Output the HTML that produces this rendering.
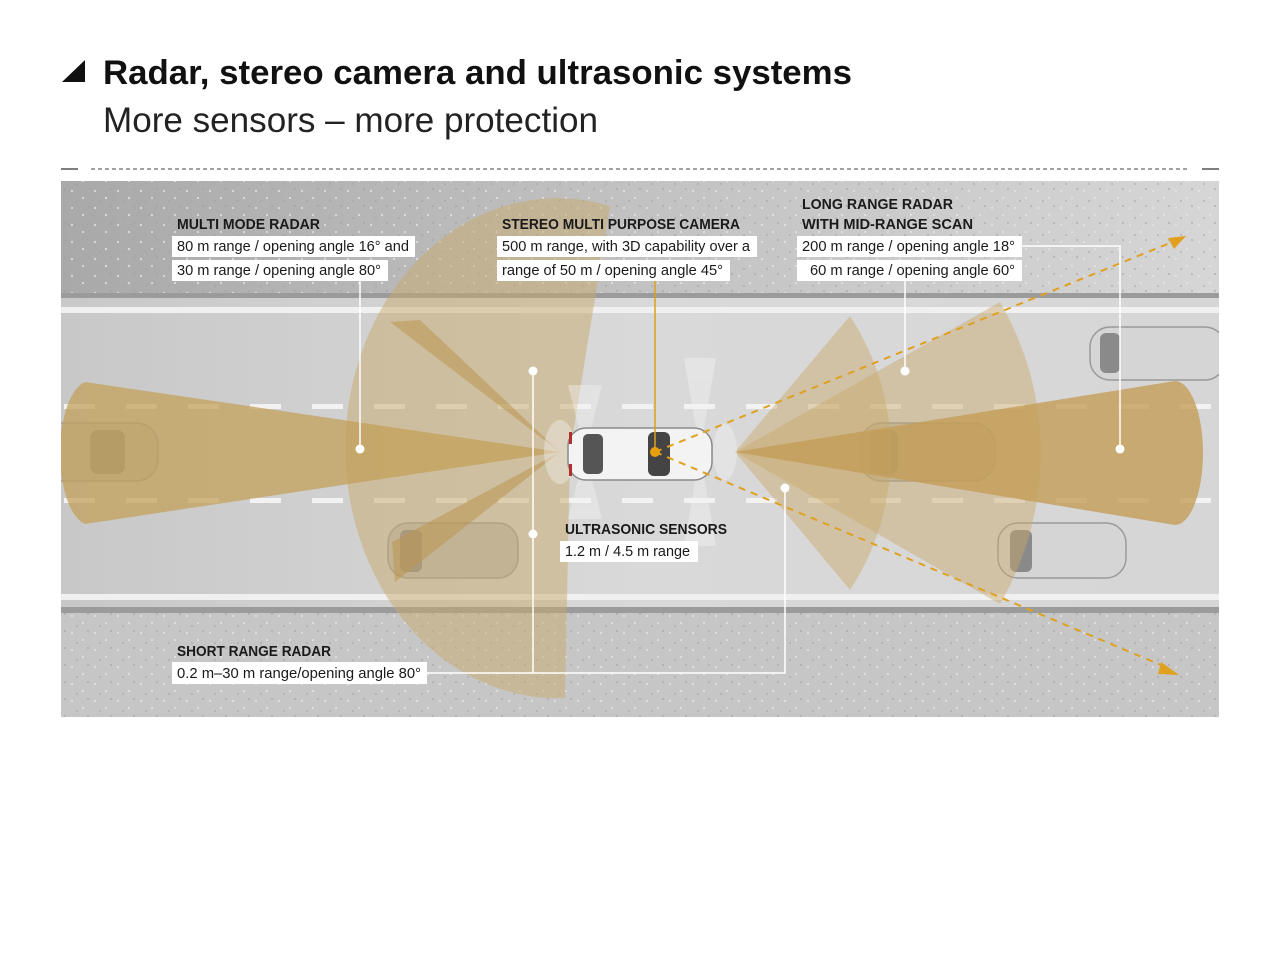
<!DOCTYPE html>
<html><head><meta charset="utf-8"><style>
html,body{margin:0;padding:0;background:#fff;}
svg{display:block;}
text{font-family:"Liberation Sans Narrow","Liberation Sans",sans-serif;}
.h{font-weight:bold;font-size:15px;fill:#1a1a1a;}
.b{font-size:14.5px;fill:#1a1a1a;}
</style></head><body>
<svg width="1281" height="961" viewBox="0 0 1281 961" xmlns="http://www.w3.org/2000/svg">
<defs>
<pattern id="dots" width="23" height="17" patternUnits="userSpaceOnUse">
<circle cx="3" cy="4" r="1.1" fill="#e6e6e6"/><circle cx="14" cy="11" r="1.1" fill="#e6e6e6"/><circle cx="19" cy="2" r="0.9" fill="#9c9c9c"/><circle cx="8" cy="14" r="0.9" fill="#a0a0a0"/>
</pattern>
<linearGradient id="top" x1="0" y1="0" x2="1" y2="0"><stop offset="0" stop-color="#a9a9a9"/><stop offset="0.5" stop-color="#c2c2c2"/><stop offset="1" stop-color="#d6d6d6"/></linearGradient>
<linearGradient id="road" x1="0" y1="0" x2="1" y2="0"><stop offset="0" stop-color="#c8c8c8"/><stop offset="0.5" stop-color="#d9d9d9"/><stop offset="1" stop-color="#d6d6d6"/></linearGradient>
<clipPath id="img"><rect x="61" y="181" width="1158" height="536"/></clipPath>
</defs>
<polygon points="62,82 85,60 85,82" fill="#111"/>
<text x="103" y="84" font-size="34" font-weight="bold" fill="#111" textLength="749" lengthAdjust="spacingAndGlyphs">Radar, stereo camera and ultrasonic systems</text>
<text x="103" y="132" font-size="35" fill="#222" textLength="495" lengthAdjust="spacingAndGlyphs">More sensors – more protection</text>
<line x1="61" y1="169" x2="78" y2="169" stroke="#333" stroke-width="1.2"/>
<line x1="91" y1="169" x2="1190" y2="169" stroke="#444" stroke-width="1" stroke-dasharray="4,3"/>
<line x1="1202" y1="169" x2="1219" y2="169" stroke="#333" stroke-width="1.2"/>

<g clip-path="url(#img)">
<rect x="61" y="181" width="1158" height="536" fill="url(#road)"/>
<rect x="61" y="181" width="1158" height="112" fill="url(#top)"/>
<rect x="61" y="181" width="1158" height="112" fill="url(#dots)" opacity="0.8"/>
<rect x="61" y="293" width="1158" height="5" fill="#9b9b9b"/>
<rect x="61" y="307" width="1158" height="6" fill="#f0f0f0"/>
<rect x="61" y="594" width="1158" height="6" fill="#f0f0f0"/>
<rect x="61" y="607" width="1158" height="6" fill="#9b9b9b"/>
<rect x="61" y="613" width="1158" height="104" fill="#c6c6c6"/>
<rect x="61" y="613" width="1158" height="104" fill="url(#dots)" opacity="0.8"/>
<line x1="64" y1="406.5" x2="1219" y2="406.5" stroke="#f2f2f2" stroke-width="5" stroke-dasharray="31,31"/>
<line x1="64" y1="500.5" x2="1219" y2="500.5" stroke="#f2f2f2" stroke-width="5" stroke-dasharray="31,31"/>

<g fill="#bdbdbd" stroke="#9a9a9a" stroke-width="1.5">
<rect x="40" y="423" width="118" height="58" rx="22"/>
<rect x="388" y="523" width="130" height="55" rx="20"/>
<rect x="860" y="423" width="135" height="58" rx="22"/>
<rect x="1090" y="327" width="135" height="53" rx="20" fill="#d5d5d5"/>
<rect x="998" y="523" width="128" height="55" rx="20" fill="#d5d5d5"/>
</g>
<g fill="#8a8a8a">
<rect x="90" y="430" width="35" height="44" rx="8"/>
<rect x="400" y="530" width="22" height="42" rx="6"/>
<rect x="870" y="430" width="28" height="44" rx="8"/>
<rect x="1100" y="333" width="20" height="40" rx="6"/>
<rect x="1010" y="530" width="22" height="42" rx="6"/>
</g>

<path d="M570,452 L610,206 A212,250 0 1 0 565,698 Z" fill="#c9aa6e" opacity="0.5"/>
<path d="M560,452 L390,322 L420,320 Z" fill="#b99550" opacity="0.55"/>
<path d="M560,452 L392,542 L395,582 Z" fill="#b99550" opacity="0.55"/>
<path d="M560,452 L85,382 A30,72 0 0 0 85,524 Z" fill="#c3a05a" opacity="0.75"/>
<path d="M735,452 L1000,302 A300,300 0 0 1 1000,604 Z" fill="#c9a86a" opacity="0.45"/>
<path d="M735,452 L850,316 A250,250 0 0 1 850,590 Z" fill="#c9a86a" opacity="0.45"/>
<path d="M735,452 L1175,381 A28,72 0 0 1 1175,525 Z" fill="#c39e58" opacity="0.8"/>

<g fill="#f4f4f4" opacity="0.4">
<path d="M585,452 L568,385 L602,385 Z"/><path d="M585,452 L568,519 L602,519 Z"/>
<path d="M700,452 L684,358 L716,358 Z"/><path d="M700,452 L684,546 L716,546 Z"/>
<ellipse cx="560" cy="452" rx="16" ry="32"/><ellipse cx="725" cy="452" rx="12" ry="28"/>
</g>

<rect x="568" y="428" width="144" height="52" rx="18" fill="#f3f3f3" stroke="#8a8a8a" stroke-width="1.5"/>
<rect x="583" y="434" width="20" height="40" rx="5" fill="#555"/>
<rect x="648" y="432" width="22" height="44" rx="6" fill="#444"/>
<rect x="569" y="432" width="3" height="12" fill="#b03030"/>
<rect x="569" y="464" width="3" height="12" fill="#b03030"/>

<g stroke="#e0a020" stroke-width="2" stroke-dasharray="7,6" fill="none">
<line x1="655" y1="452" x2="1175" y2="241"/>
<line x1="655" y1="452" x2="1168" y2="668"/>
</g>
<polygon points="1186,236 1168,238 1174,249" fill="#e0a020"/>
<polygon points="1179,675 1161,662 1158,674" fill="#e0a020"/>
</g>

<g stroke="#fff" stroke-width="1.5" fill="none">
<line x1="360" y1="281" x2="360" y2="449"/>
<line x1="905" y1="281" x2="905" y2="371"/>
<polyline points="1022,246 1120,246 1120,449"/>
<polyline points="427,673 785,673 785,488"/>
<line x1="533" y1="371" x2="533" y2="673"/>
</g>
<line x1="655" y1="281" x2="655" y2="452" stroke="#e0a020" stroke-width="1.5"/>
<g fill="#fff">
<circle cx="360" cy="449" r="4.5"/><circle cx="905" cy="371" r="4.5"/><circle cx="1120" cy="449" r="4.5"/>
<circle cx="785" cy="488" r="4.5"/><circle cx="533" cy="371" r="4.5"/><circle cx="533" cy="534" r="4.5"/>
</g>
<circle cx="655" cy="452" r="5" fill="#e8a010"/>

<g fill="#fff">
<rect x="172" y="236" width="243" height="21"/><rect x="172" y="260" width="216" height="21"/>
<rect x="497" y="236" width="260" height="21"/><rect x="497" y="260" width="233" height="21"/>
<rect x="797" y="236" width="225" height="21"/><rect x="797" y="260" width="225" height="21"/>
<rect x="560" y="541" width="138" height="21"/>
<rect x="172" y="662" width="255" height="22"/>
</g>
<text class="h" x="177" y="229" textLength="143" lengthAdjust="spacingAndGlyphs">MULTI MODE RADAR</text>
<text class="b" x="177" y="251" textLength="232" lengthAdjust="spacingAndGlyphs">80 m range / opening angle 16° and</text>
<text class="b" x="177" y="275" textLength="204" lengthAdjust="spacingAndGlyphs">30 m range / opening angle 80°</text>
<text class="h" x="502" y="229" textLength="238" lengthAdjust="spacingAndGlyphs">STEREO MULTI PURPOSE CAMERA</text>
<text class="b" x="502" y="251" textLength="248" lengthAdjust="spacingAndGlyphs">500 m range, with 3D capability over a</text>
<text class="b" x="502" y="275" textLength="221" lengthAdjust="spacingAndGlyphs">range of 50 m / opening angle 45°</text>
<text class="h" x="802" y="209" textLength="151" lengthAdjust="spacingAndGlyphs">LONG RANGE RADAR</text>
<text class="h" x="802" y="229" textLength="171" lengthAdjust="spacingAndGlyphs">WITH MID-RANGE SCAN</text>
<text class="b" x="802" y="251" textLength="213" lengthAdjust="spacingAndGlyphs">200 m range / opening angle 18°</text>
<text class="b" x="810" y="275" textLength="205" lengthAdjust="spacingAndGlyphs">60 m range / opening angle 60°</text>
<text class="h" x="565" y="534" textLength="162" lengthAdjust="spacingAndGlyphs">ULTRASONIC SENSORS</text>
<text class="b" x="565" y="556" textLength="125" lengthAdjust="spacingAndGlyphs">1.2 m / 4.5 m range</text>
<text class="h" x="177" y="656" textLength="154" lengthAdjust="spacingAndGlyphs">SHORT RANGE RADAR</text>
<text class="b" x="177" y="678" textLength="244" lengthAdjust="spacingAndGlyphs">0.2 m–30 m range/opening angle 80°</text>
</svg>
</body></html>
